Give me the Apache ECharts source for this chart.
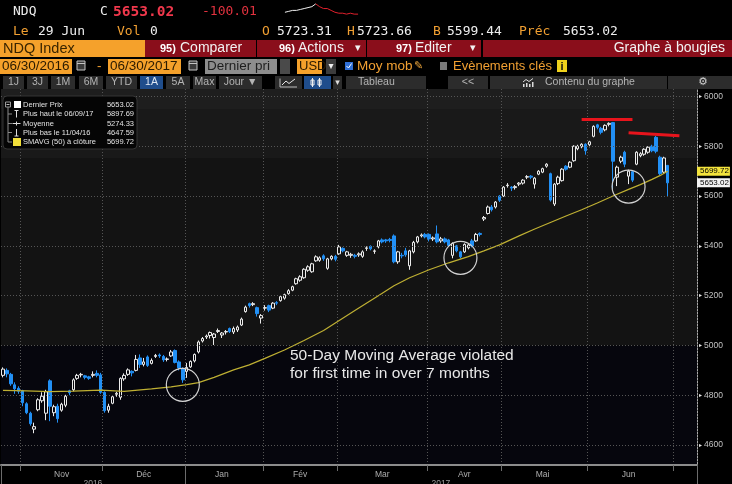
<!DOCTYPE html>
<html>
<head>
<meta charset="utf-8">
<title>NDQ Index - Graphe à bougies</title>
<script src="https://cdn.jsdelivr.net/npm/echarts@6.0.0/dist/echarts.min.js"></script>
<style>
  html, body { margin: 0; padding: 0; background: #000; }
  #chart { width: 732px; height: 484px; }
</style>
</head>
<body>
<div id="chart"></div>
<script>
// ---- data -------------------------------------------------------------
// trading days from Oct 25 2016; the last slots (after Jun 29) stay empty
const startDate = '2016-10-25'
const slotCount = 178
const holidays = ['2016-11-24', '2016-12-26', '2017-01-02', '2017-01-16',
  '2017-02-20', '2017-04-14', '2017-05-29', '2017-07-04']

const monthNames = ['Jan', 'Fév', 'Mar', 'Avr', 'Mai', 'Jun', 'Jul', 'Aoû', 'Sep', 'Oct', 'Nov', 'Déc']
const labelledMonths = ['2016-11', '2016-12', '2017-01', '2017-02', '2017-03', '2017-04', '2017-05', '2017-06']
const labelledYears = ['2016', '2017']
const yTicks = [4600, 4800, 5000, 5200, 5400, 5600, 5800, 6000]

// [open, close, low, high]
const candlesOct = [
  [4880, 4905, 4872, 4912], [4900, 4886, 4872, 4908], [4884, 4846, 4838, 4890],
  [4842, 4826, 4806, 4852], [4828, 4816, 4806, 4836]
]
const candlesNov = [
  [4818, 4770, 4756, 4822], [4766, 4730, 4724, 4772], [4728, 4686, 4678, 4734],
  [4664, 4674, 4647.59, 4690], [4742, 4782, 4736, 4788], [4778, 4796, 4770, 4812],
  [4728, 4814, 4700, 4822], [4858, 4756, 4696, 4864], [4730, 4754, 4716, 4762],
  [4756, 4706, 4690, 4766], [4740, 4764, 4734, 4770], [4760, 4796, 4752, 4802],
  [4818, 4810, 4800, 4822], [4822, 4862, 4816, 4868], [4868, 4880, 4862, 4886],
  [4882, 4884, 4872, 4890], [4878, 4872, 4864, 4882], [4874, 4868, 4862, 4878],
  [4880, 4884, 4872, 4896], [4888, 4880, 4872, 4900], [4882, 4812, 4806, 4890]
]
const candlesDec = [
  [4812, 4738, 4730, 4816], [4740, 4756, 4730, 4766], [4768, 4794, 4764, 4800],
  [4804, 4808, 4794, 4814], [4792, 4868, 4782, 4872], [4866, 4880, 4858, 4888],
  [4884, 4902, 4878, 4908], [4896, 4890, 4876, 4900], [4900, 4944, 4896, 4962],
  [4950, 4924, 4910, 4964], [4924, 4934, 4916, 4950], [4954, 4920, 4914, 4960],
  [4928, 4940, 4924, 4948], [4956, 4960, 4950, 4966], [4962, 4958, 4950, 4968],
  [4956, 4942, 4934, 4962], [4944, 4946, 4936, 4952], [4958, 4974, 4954, 4982],
  [4980, 4932, 4928, 4984], [4934, 4910, 4900, 4940], [4908, 4862, 4850, 4912]
]
const candlesJan = [
  [4896, 4912, 4870, 4930], [4914, 4936, 4910, 4940], [4938, 4964, 4932, 4968],
  [4974, 5014, 4968, 5020], [5018, 5028, 5012, 5034], [5034, 5038, 5026, 5044],
  [5040, 5052, 5028, 5056], [5032, 5046, 5002, 5050], [5056, 5060, 5050, 5068],
  [5042, 5050, 5030, 5054], [5054, 5056, 5044, 5062], [5068, 5056, 5050, 5072],
  [5054, 5068, 5046, 5076], [5062, 5074, 5054, 5080], [5082, 5106, 5078, 5112],
  [5136, 5154, 5132, 5160], [5168, 5160, 5152, 5172], [5164, 5168, 5158, 5174],
  [5152, 5128, 5116, 5156], [5110, 5120, 5088, 5126]
]
const candlesFeb = [
  [5150, 5152, 5140, 5162], [5160, 5142, 5134, 5164], [5150, 5170, 5146, 5174],
  [5172, 5170, 5162, 5178], [5180, 5196, 5176, 5202], [5190, 5204, 5184, 5208],
  [5208, 5220, 5204, 5226], [5222, 5236, 5218, 5240], [5248, 5268, 5244, 5272],
  [5262, 5276, 5256, 5282], [5272, 5306, 5268, 5310], [5302, 5316, 5296, 5322],
  [5296, 5328, 5292, 5332], [5340, 5356, 5336, 5362], [5342, 5352, 5336, 5358],
  [5360, 5348, 5340, 5366], [5310, 5348, 5304, 5352], [5348, 5358, 5342, 5362],
  [5358, 5346, 5338, 5364]
]
const candlesMar = [
  [5368, 5396, 5364, 5404], [5390, 5380, 5374, 5394], [5362, 5376, 5356, 5380],
  [5362, 5366, 5352, 5372], [5362, 5358, 5350, 5368], [5364, 5368, 5356, 5374],
  [5358, 5376, 5352, 5382], [5390, 5392, 5380, 5398], [5398, 5388, 5382, 5402],
  [5378, 5380, 5368, 5386], [5396, 5420, 5390, 5424], [5424, 5416, 5410, 5430],
  [5424, 5420, 5412, 5428], [5426, 5422, 5414, 5432], [5440, 5336, 5330, 5446],
  [5336, 5376, 5328, 5380], [5362, 5360, 5350, 5372], [5380, 5364, 5356, 5392],
  [5320, 5380, 5304, 5384], [5376, 5414, 5370, 5420], [5416, 5436, 5410, 5440],
  [5440, 5444, 5434, 5450], [5446, 5436, 5430, 5452]
]
const candlesApr = [
  [5446, 5428, 5418, 5450], [5428, 5432, 5420, 5438], [5448, 5416, 5410, 5482],
  [5420, 5428, 5412, 5436], [5428, 5416, 5410, 5434], [5424, 5402, 5396, 5428],
  [5362, 5410, 5350, 5414], [5400, 5380, 5374, 5404], [5376, 5356, 5350, 5380],
  [5376, 5406, 5372, 5410], [5392, 5404, 5386, 5410], [5420, 5400, 5394, 5428],
  [5420, 5446, 5416, 5452], [5450, 5446, 5438, 5454], [5508, 5514, 5500, 5520],
  [5530, 5556, 5526, 5562], [5556, 5545, 5538, 5564], [5556, 5576, 5550, 5580],
  [5600, 5583, 5576, 5604]
]
const candlesMay = [
  [5600, 5636, 5596, 5640], [5642, 5644, 5634, 5652], [5636, 5632, 5620, 5640],
  [5634, 5638, 5626, 5644], [5648, 5652, 5640, 5656], [5652, 5664, 5646, 5668],
  [5676, 5678, 5668, 5684], [5680, 5676, 5668, 5684], [5648, 5672, 5630, 5676],
  [5688, 5700, 5684, 5704], [5696, 5710, 5692, 5714], [5720, 5728, 5714, 5732],
  [5690, 5584, 5578, 5694], [5568, 5648, 5560, 5652], [5650, 5676, 5644, 5682],
  [5662, 5708, 5658, 5712], [5720, 5708, 5702, 5724], [5716, 5736, 5712, 5740],
  [5742, 5800, 5738, 5804], [5790, 5800, 5784, 5806], [5798, 5808, 5792, 5812],
  [5808, 5782, 5766, 5812]
]
const candlesJun = [
  [5806, 5818, 5796, 5822], [5840, 5880, 5836, 5884], [5886, 5876, 5868, 5890],
  [5872, 5856, 5848, 5878], [5866, 5884, 5860, 5888], [5888, 5892, 5880, 5896],
  [5895, 5740, 5628, 5897.69], [5676, 5716, 5640, 5722], [5740, 5756, 5732, 5762],
  [5776, 5728, 5716, 5782], [5680, 5700, 5648, 5706], [5698, 5664, 5656, 5702],
  [5728, 5776, 5724, 5780], [5762, 5770, 5756, 5776], [5768, 5788, 5762, 5792],
  [5776, 5796, 5770, 5800], [5800, 5782, 5776, 5806], [5836, 5780, 5772, 5842],
  [5756, 5690, 5684, 5762], [5696, 5753.03, 5690, 5758], [5723.31, 5653.02, 5599.44, 5723.66]
]

// 50 day moving average: [day index, value]
const maPoints = [
  [0, 4820], [6, 4818], [12, 4815], [18, 4817], [25, 4821], [31, 4816], [38, 4826],
  [43, 4834], [47, 4843], [50, 4851], [54, 4872], [59, 4902], [63, 4922], [67, 4948],
  [72, 4982], [77, 5020], [82, 5060], [85, 5090], [90, 5140], [96, 5200], [100, 5240],
  [104, 5272], [109, 5304], [114, 5332], [119, 5357], [123, 5380], [127, 5404],
  [132, 5440], [136, 5468], [140, 5494], [144, 5520], [148, 5545], [152, 5572],
  [156, 5600], [160, 5627], [163, 5646], [166, 5667], [168, 5682], [170, 5699.72]
]

// hand drawn marks: resistance lines [from day, level, to day, level] and circles [day, level]
const resistanceLines = [[148, 5909, 161, 5909], [160, 5854, 173, 5842]]
const violations = [[46, 4842], [117, 5352], [160, 5638]]

// intraday sparkline of the header
const sparkWhite = [6, 7, 8, 8, 9, 10, 11, 12, 15]
const sparkRed = [15, 12, 10, 10, 8, 6, 5, 5, 4, 5, 4, 4]

const legendRows = [
  ['Dernier Prix', '5653.02'],
  ['Plus haut le 06/09/17', '5897.69'],
  ['Moyenne', '5274.33'],
  ['Plus bas le 11/04/16', '4647.59'],
  ['SMAVG (50) à clôture', '5699.72']
]
const lastPrice = 5653.02
const lastAverage = 5699.72

// ---- helpers ----------------------------------------------------------
function buildDays() {
  const days = []
  const d = new Date(startDate + 'T00:00:00Z')
  while (days.length < slotCount) {
    const s = d.toISOString().slice(0, 10)
    const wd = d.getUTCDay()
    if (wd !== 0 && wd !== 6 && holidays.indexOf(s) < 0) days.push(s)
    d.setUTCDate(d.getUTCDate() + 1)
  }
  return days
}

const days = buildDays()
const candles = [].concat(candlesOct, candlesNov, candlesDec, candlesJan, candlesFeb,
  candlesMar, candlesApr, candlesMay, candlesJun)

const monthStart = days.map((d, i) => i > 0 && d.slice(0, 7) !== days[i - 1].slice(0, 7))
const yearStart = days.map((d, i) => i > 0 && d.slice(0, 4) !== days[i - 1].slice(0, 4))

function middleIndex(prefix) {
  const idx = []
  days.forEach((d, i) => { if (d.indexOf(prefix) === 0) idx.push(i) })
  return idx[Math.floor((idx.length - 1) / 2)]
}
const monthLabelAt = {}
labelledMonths.forEach(m => { monthLabelAt[middleIndex(m)] = monthNames[+m.slice(5) - 1] })
const yearLabelAt = {}
labelledYears.forEach(y => { yearLabelAt[middleIndex(y)] = y })

// plot background bands, one colour per 10 point step of the axis
const bandColors = []
for (let v = 4520; v < 6030; v += 10) {
  bandColors.push(v < 5000 ? '#06060d' : v < 5750 ? '#131313' : v < 5950 ? '#191919' : '#1e1e1e')
}

const MONO = '"DejaVu Sans Mono", monospace'
const SANS = '"Liberation Sans", Arial, sans-serif'
const ORANGE = '#f5a12b'
const AMBER = '#f2a032'
const BAR_RED = '#8a0e1b'
const BTN = '#2c2c2c'
const BTN_TXT = '#b4b4b4'
const BLUE_BTN = '#1f4d8c'

function rect(x, y, w, h, fill, stroke, r) {
  return { type: 'rect', z: 100, shape: { x: x, y: y, width: w, height: h, r: r || 0 },
    style: { fill: fill, stroke: stroke || null, lineWidth: 1 } }
}
function txt(x, y, text, fill, size, family, opts) {
  return { type: 'text', z: 101, x: x, y: y,
    style: Object.assign({ text: text, fill: fill, fontSize: size, fontFamily: family || SANS, verticalAlign: 'middle' }, opts || {}) }
}
function seg(x1, y1, x2, y2, stroke, w) {
  return { type: 'line', z: 101, shape: { x1: x1, y1: y1, x2: x2, y2: y2 }, style: { stroke: stroke, lineWidth: w || 1 } }
}
function poly(points, stroke) {
  return { type: 'polyline', z: 101, shape: { points: points }, style: { stroke: stroke, lineWidth: 1, fill: null } }
}
function button(x, w, text, fill) {
  const items = [rect(x, 76, w, 13, fill || BTN)]
  if (text) items.push(txt(x + w / 2, 82.5, text, fill ? '#dde6f2' : BTN_TXT, 10.5, SANS, { align: 'center' }))
  return items
}
function calendar(x) {
  return [rect(x, 61, 8, 9, '#3a3a3a', '#c4c4c4'), seg(x, 63.5, x + 8, 63.5, '#c4c4c4')]
}

// ---- header (terminal bars) ------------------------------------------
const header = [
  txt(13, 12, 'NDQ', '#eeeeee', 13, MONO),
  txt(100, 12, 'C', '#eeeeee', 13, MONO),
  txt(113, 12, '5653.02', '#f0384c', 14.5, MONO, { fontWeight: 'bold' }),
  txt(202, 12, '-100.01', '#e2323f', 13, MONO),

  txt(13, 32, 'Le', AMBER, 13, MONO), txt(38, 32, '29 Jun', '#eeeeee', 13, MONO),
  txt(117, 32, 'Vol', AMBER, 13, MONO), txt(150, 32, '0', '#eeeeee', 13, MONO),
  txt(262, 32, 'O', AMBER, 13, MONO), txt(277, 32, '5723.31', '#eeeeee', 13, MONO),
  txt(347, 32, 'H', AMBER, 13, MONO), txt(357, 32, '5723.66', '#eeeeee', 13, MONO),
  txt(433, 32, 'B', AMBER, 13, MONO), txt(447, 32, '5599.44', '#eeeeee', 13, MONO),
  txt(519, 32, 'Préc', AMBER, 13, MONO), txt(563, 32, '5653.02', '#eeeeee', 13, MONO),

  rect(0, 40, 145, 17, ORANGE),
  txt(3, 48.5, 'NDQ Index', '#3a2500', 14.5),
  rect(145, 40, 111, 17, BAR_RED),
  txt(160, 48.5, '95)', '#ffffff', 11, SANS, { fontWeight: 'bold' }),
  txt(180, 48.5, 'Comparer', '#f2f2f2', 14),
  rect(257, 40, 109, 17, BAR_RED),
  txt(279, 48.5, '96)', '#ffffff', 11, SANS, { fontWeight: 'bold' }),
  txt(298, 48.5, 'Actions', '#f2f2f2', 14),
  txt(355, 48.5, '▾', '#f2f2f2', 11, 'DejaVu Sans'),
  rect(367, 40, 114, 17, BAR_RED),
  txt(396, 48.5, '97)', '#ffffff', 11, SANS, { fontWeight: 'bold' }),
  txt(415, 48.5, 'Editer', '#f2f2f2', 14),
  txt(470, 48.5, '▾', '#f2f2f2', 11, 'DejaVu Sans'),
  rect(483, 40, 249, 17, BAR_RED),
  txt(725, 48.5, 'Graphe à bougies', '#f2f2f2', 14, SANS, { align: 'right' }),

  rect(0, 59, 72, 15, ORANGE), txt(2, 66.5, '06/30/2016', '#2a1a00', 13.5),
  ...calendar(77),
  txt(97, 66.5, '-', AMBER, 13.5),
  rect(108, 59, 73, 15, ORANGE), txt(110, 66.5, '06/30/2017', '#2a1a00', 13.5),
  ...calendar(189),
  rect(205, 59, 72, 15, '#8d8d8d'), txt(207, 66.5, 'Dernier pri', '#1e1e1e', 13.5),
  rect(280, 59, 10, 15, '#4a4a4a'),
  rect(297, 59, 25, 15, ORANGE), txt(299, 66.5, 'USD', '#2a1a00', 13),
  rect(326, 59, 10, 15, '#3c3c3c'), txt(331, 66.5, '▾', '#eeeeee', 10, 'DejaVu Sans', { align: 'center' }),
  rect(345, 62, 8, 8, '#2f6fd6'), poly([[346.5, 66], [348.5, 68], [351.5, 63.5]], '#ffffff'),
  txt(357, 66.5, 'Moy mob', AMBER, 13.5),
  txt(414, 66.5, '✎', '#e8a23a', 11, 'DejaVu Sans'),
  rect(440, 62, 7, 8, '#7a7a7a'),
  txt(453, 66.5, 'Evènements clés', AMBER, 13),
  rect(557, 60, 10, 12, '#efd21c'),
  txt(562, 66.5, 'i', '#111111', 11, SANS, { align: 'center', fontWeight: 'bold' }),

  ...button(3, 21, '1J'), ...button(27, 21, '3J'), ...button(51, 24, '1M'),
  ...button(79, 24, '6M'), ...button(106, 31, 'YTD'), ...button(140, 23, '1A', BLUE_BTN),
  ...button(166, 24, '5A'), ...button(193, 23, 'Max'), ...button(219, 43, 'Jour ▼'),
  ...button(275, 27), poly([[280, 78.5], [280, 87], [297, 87]], '#bdbdbd'),
  poly([[282, 85], [286, 81], [289, 83.5], [295, 79]], '#e6e6e6'),
  ...button(304, 27, '', BLUE_BTN),
  rect(311, 80, 3, 5, null, '#f0f0f0'), seg(312.5, 78, 312.5, 87, '#f0f0f0'),
  rect(318, 80, 3, 5, null, '#f0f0f0'), seg(319.5, 78, 319.5, 87, '#f0f0f0'),
  ...button(333, 9), txt(337.5, 82.5, '▾', '#dddddd', 9, 'DejaVu Sans', { align: 'center' }),
  rect(346, 76, 80, 13, BTN), txt(358, 82.5, 'Tableau', BTN_TXT, 10.5),
  ...button(448, 40, '<<'),
  rect(490, 76, 177, 13, BTN),
  poly([[523, 82], [526, 79.5], [529, 81.5], [533, 78.5]], '#dddddd'),
  rect(523, 84, 1.5, 3, '#dddddd'), rect(526, 83, 1.5, 4, '#dddddd'), rect(529, 84, 1.5, 3, '#dddddd'), rect(532, 82, 1.5, 5, '#dddddd'),
  txt(545, 82.5, 'Contenu du graphe', BTN_TXT, 10.5),
  rect(668, 76, 64, 13, BTN), txt(703, 82.5, '⚙', '#cfcfcf', 11, 'DejaVu Sans', { align: 'center' })
]

// ---- info box of the chart ------------------------------------------
const rowY = [104.5, 114, 123.5, 132.5, 142]
const infoBox = [
  rect(3, 96, 134, 53, '#050505', '#353535', 4),
  rect(5.5, 102, 5, 5, '#050505', '#9a9a9a'), seg(6.5, 104.5, 9.5, 104.5, '#bbbbbb'),
  rect(14, 101, 7, 7, '#ffffff'),
  seg(8, 107, 8, 142, '#8a8a8a'),
  seg(8, 114, 12, 114, '#8a8a8a'), seg(8, 123.5, 12, 123.5, '#8a8a8a'),
  seg(8, 132.5, 12, 132.5, '#8a8a8a'), seg(8, 142, 12, 142, '#8a8a8a'),
  seg(14.5, 110.5, 18.5, 110.5, '#dddddd'), seg(16.5, 110.5, 16.5, 117.5, '#dddddd'),
  seg(12.5, 123.5, 20.5, 123.5, '#dddddd'), seg(16.5, 121.5, 16.5, 125.5, '#dddddd'),
  seg(16.5, 129, 16.5, 136, '#dddddd'), seg(14.5, 136, 18.5, 136, '#dddddd'),
  rect(13, 138, 8, 8, '#f2e03a')
]
legendRows.forEach((row, i) => {
  infoBox.push(txt(23, rowY[i], row[0], '#e2e2e2', 7.5))
  infoBox.push(txt(134, rowY[i], row[1], '#e2e2e2', 7.5, SANS, { align: 'right' }))
})

const note = {
  type: 'text', z: 101, x: 290, y: 347,
  style: {
    text: '50-Day Moving Average violated\nfor first time in over 7 months',
    fill: '#e8e8e8', fontSize: 15.5, fontFamily: SANS, lineHeight: 17.5, verticalAlign: 'top'
  }
}

// ---- chart --------------------------------------------------------------
const chart = echarts.init(document.getElementById('chart'))

const priceTag = (bg) => ({
  show: true, position: 'end', distance: 0, formatter: '{c}', backgroundColor: bg,
  color: '#000', fontSize: 8, fontFamily: SANS, padding: [1, 1, 0, 3]
})

chart.setOption({
  backgroundColor: '#000',
  animation: false,
  textStyle: { fontFamily: SANS },
  grid: [
    { left: 1, top: 89, width: 696, bottom: 19, outerBoundsMode: 'none' },
    { left: 283, top: 2, width: 77, height: 14, outerBoundsMode: 'none' }
  ],
  xAxis: [
    {
      type: 'category', gridIndex: 0, data: days, boundaryGap: true, position: 'bottom', z: 1,
      axisLine: { show: true, lineStyle: { color: '#8c8c8c', width: 2 } },
      axisTick: { show: true, interval: i => monthStart[i], length: 6, lineStyle: { color: '#6c6c6c' } },
      axisLabel: {
        interval: i => monthLabelAt[i] !== undefined,
        formatter: (v, i) => monthLabelAt[i] || '',
        color: '#adadad', fontSize: 8.5, margin: 5
      },
      splitLine: { show: true, interval: i => monthStart[i], lineStyle: { color: '#555555', type: [1, 2] } }
    },
    {
      type: 'category', gridIndex: 0, data: days, boundaryGap: true, position: 'bottom', z: 1,
      axisLine: { show: false },
      axisTick: { show: true, interval: i => i === 0 || yearStart[i], length: 19, lineStyle: { color: '#6c6c6c' } },
      axisLabel: {
        interval: i => yearLabelAt[i] !== undefined,
        formatter: (v, i) => yearLabelAt[i] || '',
        color: '#9a9a9a', fontSize: 8.5, margin: 14
      },
      splitLine: { show: false }
    },
    { type: 'category', gridIndex: 1, data: sparkWhite.concat(sparkRed).map((v, i) => i).slice(0, 20), show: false }
  ],
  yAxis: [
    {
      type: 'value', gridIndex: 0, position: 'right', min: 4520, max: 6030, interval: 10, z: 0,
      axisLine: { show: true, lineStyle: { color: '#a8a8a8' } },
      axisTick: { show: false },
      axisLabel: {
        margin: 2, color: '#c2c2c2', fontSize: 8.5,
        formatter: v => (v % 200 === 0 ? '{t|▸}' + v : ''),
        rich: { t: { fontSize: 6, color: '#e0e0e0', padding: [0, 2, 0, 0] } }
      },
      splitLine: { show: false },
      splitArea: { show: true, areaStyle: { color: bandColors } }
    },
    { type: 'value', gridIndex: 1, show: false, min: 2, max: 17 }
  ],
  series: [
    {
      // carries the horizontal dotted grid lines
      name: 'grille', type: 'line', data: maPoints, z: 1, silent: true,
      symbol: 'none', lineStyle: { opacity: 0 },
      markLine: {
        silent: true, symbol: 'none', label: { show: false },
        lineStyle: { color: '#555555', type: [1, 2], width: 1 },
        data: yTicks.map(v => ({ yAxis: v }))
      }
    },
    {
      name: 'NDQ Index', type: 'candlestick', data: candles, z: 3, barWidth: 3,
      itemStyle: {
        color: 'transparent', color0: '#2290f5',
        borderColor: '#ececec', borderColor0: '#2290f5', borderWidth: 1
      },
      markLine: {
        silent: true, symbol: 'none', label: { show: false },
        lineStyle: { color: '#e8141c', width: 3, type: 'solid' },
        data: resistanceLines.map(r => [
          { coord: [days[r[0]], r[1]] }, { coord: [days[r[2]], r[3]] }
        ])
      },
      markPoint: {
        silent: true, symbol: 'circle', symbolSize: 33, label: { show: false },
        itemStyle: { color: 'transparent', borderColor: '#d2d2d2', borderWidth: 1.2 },
        data: violations.map(c => ({ coord: [days[c[0]], c[1]] }))
      }
    },
    {
      name: 'SMAVG (50)', type: 'line', data: maPoints, z: 4, symbol: 'none', clip: false,
      lineStyle: { color: '#bfb033', width: 1.2 }
    },
    {
      // last value tags on the price scale
      name: 'tags', type: 'line', data: maPoints, z: 5, symbol: 'none', clip: false, silent: true,
      lineStyle: { color: 'transparent', width: 0 },
      markLine: {
        silent: true, symbol: 'none', lineStyle: { color: 'transparent', width: 1, type: 'solid' },
        data: [
          { yAxis: lastAverage, label: priceTag('#f3e33c') },
          { yAxis: lastPrice, label: priceTag('#f4f4f4') }
        ]
      }
    },
    {
      name: 'spark', type: 'line', xAxisIndex: 2, yAxisIndex: 1, data: sparkWhite,
      symbol: 'none', lineStyle: { color: '#f0f0f0', width: 1 }
    },
    {
      name: 'spark2', type: 'line', xAxisIndex: 2, yAxisIndex: 1,
      data: sparkWhite.slice(0, 8).map(() => null).concat(sparkRed),
      symbol: 'none', lineStyle: { color: '#e0202c', width: 1 }
    }
  ],
  graphic: header.concat(infoBox, [note])
})
</script>
</body>
</html>
